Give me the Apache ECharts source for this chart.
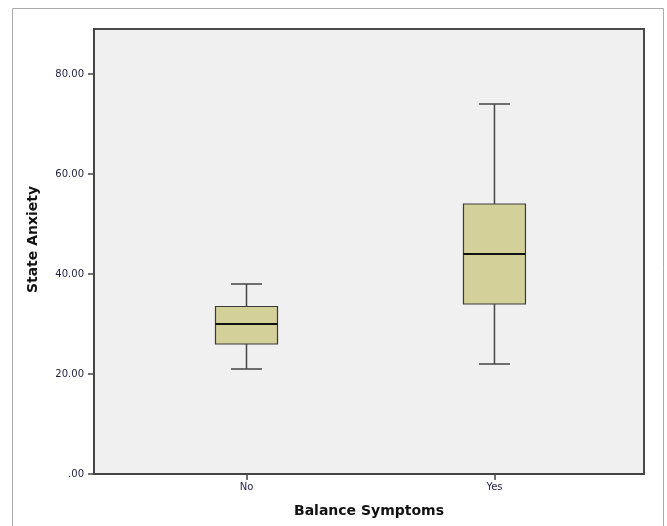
<!DOCTYPE html>
<html>
<head>
<meta charset="utf-8">
<script src="https://cdn.jsdelivr.net/npm/echarts@6/dist/echarts.min.js"></script>
<style>
html, body { margin: 0; padding: 0; background: #fff; }
#chart { width: 667px; height: 526px; }
</style>
</head>
<body>
<div id="chart"></div>
<script>
const categories = ['No', 'Yes']
// min, Q1, median, Q3, max
const lowValues = [21, 22]
const q1Values = [26, 34]
const medianValues = [30, 44]
const q3Values = [33.5, 54]
const highValues = [38, 74]
const yTicks = [0, 20, 40, 60, 80]

let data = []
for (let i = 0; i < categories.length; i++) {
    data.push([i, lowValues[i], q1Values[i], medianValues[i], q3Values[i], highValues[i]])
}

const boxWidth = 62
const capWidth = 31
const lineColor = '#444'

function renderBox(params, api) {
    let x = api.value(0)
    let lo = api.coord([x, api.value(1)])
    let q1 = api.coord([x, api.value(2)])
    let med = api.coord([x, api.value(3)])
    let q3 = api.coord([x, api.value(4)])
    let hi = api.coord([x, api.value(5)])
    let cx = med[0]
    let lineStyle = { stroke: lineColor, lineWidth: 1.5 }
    return {
        type: 'group',
        children: [
            { type: 'line', shape: { x1: cx, y1: hi[1], x2: cx, y2: q3[1] }, style: lineStyle },
            { type: 'line', shape: { x1: cx, y1: q1[1], x2: cx, y2: lo[1] }, style: lineStyle },
            { type: 'line', shape: { x1: cx - capWidth / 2, y1: hi[1], x2: cx + capWidth / 2, y2: hi[1] }, style: lineStyle },
            { type: 'line', shape: { x1: cx - capWidth / 2, y1: lo[1], x2: cx + capWidth / 2, y2: lo[1] }, style: lineStyle },
            {
                type: 'rect',
                shape: { x: cx - boxWidth / 2, y: q3[1], width: boxWidth, height: q1[1] - q3[1] },
                style: { fill: '#d4d09a', stroke: '#3a3a3a', lineWidth: 1.2 },
            },
            { type: 'line', shape: { x1: cx - boxWidth / 2, y1: med[1], x2: cx + boxWidth / 2, y2: med[1] }, style: { stroke: '#111', lineWidth: 2 } },
        ],
    }
}

const chart = echarts.init(document.getElementById('chart'), null, { renderer: 'canvas' })
chart.setOption({
    animation: false,
    graphic: [{
        type: 'rect',
        shape: { x: 12.5, y: 8.5, width: 651, height: 540 },
        style: { fill: null, stroke: '#aaa', lineWidth: 1 },
        silent: true,
    }],
    grid: {
        left: 94,
        right: 23,
        top: 29,
        bottom: 52,
        show: true,
        backgroundColor: '#f0f0f0',
        borderColor: '#4a4a4a',
        borderWidth: 2,
    },
    xAxis: {
        type: 'value',
        min: -0.615,
        max: 1.603,
        name: 'Balance Symptoms',
        nameLocation: 'middle',
        nameGap: 30,
        nameTextStyle: { fontFamily: 'DejaVu Sans', fontWeight: 'bold', fontSize: 14, color: '#111' },
        axisLine: { show: true, onZero: false, lineStyle: { color: '#444', width: 2 } },
        axisTick: { show: true, length: 6, customValues: [0, 1], lineStyle: { color: '#444', width: 1.5 } },
        axisLabel: {
            customValues: [0, 1],
            formatter: v => categories[Math.round(v)],
            fontFamily: 'DejaVu Sans',
            fontSize: 10,
            color: '#1e1e40',
            margin: 8,
        },
        splitLine: { show: false },
    },
    yAxis: {
        type: 'value',
        min: 0,
        max: 89,
        name: 'State Anxiety',
        nameLocation: 'middle',
        nameGap: 54,
        nameTextStyle: { fontFamily: 'DejaVu Sans', fontWeight: 'bold', fontSize: 14, color: '#111', padding: [0, 0, 0, 24] },
        axisLine: { show: true, onZero: false, lineStyle: { color: '#444', width: 2 } },
        axisTick: { show: true, length: 6, customValues: yTicks, lineStyle: { color: '#444', width: 1.5 } },
        axisLabel: {
            customValues: yTicks,
            formatter: v => v === 0 ? '.00' : v.toFixed(2),
            fontFamily: 'DejaVu Sans',
            fontSize: 10,
            color: '#1e1e40',
            margin: 10,
        },
        splitLine: { show: false },
    },
    series: [{
        type: 'custom',
        renderItem: renderBox,
        encode: { x: 0, y: [1, 2, 3, 4, 5] },
        data: data,
    }],
})
</script>
</body>
</html>
